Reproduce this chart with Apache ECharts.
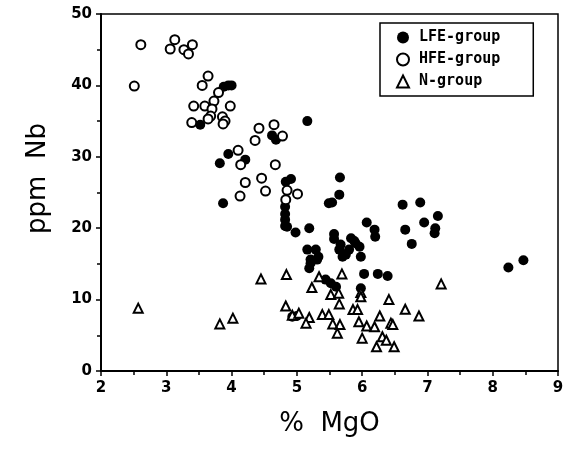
<!DOCTYPE html>
<html>
<head>
<meta charset="utf-8">
<script src="https://cdn.jsdelivr.net/npm/echarts@6/dist/echarts.min.js"></script>
<style>
  html, body { margin: 0; padding: 0; background: #fff; }
  #chart { width: 576px; height: 450px; }
</style>
</head>
<body>
<div id="chart"></div>
<script>
// % MgO vs ppm Nb, three lava groups
const lfeGroup = [
  [3.88, 39.8], [3.95, 40.0], [4.00, 40.0], [3.52, 34.5],
  [3.95, 30.4], [3.82, 29.1], [4.21, 29.6], [3.87, 23.5],
  [4.62, 33.0], [4.68, 32.4], [5.16, 35.0],
  [4.91, 26.9], [4.83, 26.5], [4.82, 23.0], [4.82, 22.0], [4.82, 21.2], [4.82, 20.3],
  [4.85, 20.2], [4.98, 19.4], [5.19, 20.0],
  [5.49, 23.5], [5.54, 23.6], [5.65, 24.7], [5.66, 27.1],
  [6.62, 23.3], [6.89, 23.6], [7.16, 21.7], [6.95, 20.8], [7.12, 20.0], [7.11, 19.3],
  [6.66, 19.8], [6.76, 17.8],
  [6.07, 20.8], [6.19, 19.8], [6.20, 18.8],
  [5.57, 19.2], [5.57, 18.5], [5.67, 17.7], [5.70, 16.0], [5.83, 18.6], [5.90, 17.9],
  [5.96, 17.4], [5.98, 16.0], [5.80, 17.0], [5.65, 17.0], [5.75, 16.3], [5.88, 18.2],
  [5.16, 17.0], [5.29, 17.0], [5.33, 16.0], [5.31, 15.6], [5.21, 15.6], [5.19, 14.4], [5.21, 15.1],
  [8.24, 14.5], [8.47, 15.5],
  [6.03, 13.6], [6.24, 13.6], [6.39, 13.3],
  [5.44, 12.8], [5.52, 12.3], [5.60, 11.8], [5.98, 11.6],
  [4.93, 7.6], [5.00, 7.7]
];

const hfeGroup = [
  [2.61, 45.7], [2.51, 39.9], [3.13, 46.4], [3.06, 45.1], [3.27, 45.0], [3.40, 45.7], [3.34, 44.4],
  [3.64, 41.3], [3.55, 40.0], [3.80, 39.0], [3.73, 37.8], [3.42, 37.1], [3.59, 37.1], [3.70, 36.7],
  [3.98, 37.1], [3.68, 35.7], [3.39, 34.8], [3.64, 35.3], [3.86, 35.6], [3.90, 35.0], [3.87, 34.6],
  [4.42, 34.0], [4.65, 34.5], [4.36, 32.3], [4.78, 32.9], [4.10, 30.9], [4.14, 28.9], [4.67, 28.9],
  [4.21, 26.4], [4.46, 27.0], [4.52, 25.2], [4.13, 24.5], [4.85, 25.3], [5.01, 24.8], [4.83, 24.0]
];

const nGroup = [
  [2.57, 8.8], [3.82, 6.6], [4.02, 7.4], [4.45, 12.9], [4.84, 13.5], [5.34, 13.2], [5.69, 13.6],
  [5.23, 11.7], [7.21, 12.2], [5.52, 10.7], [5.64, 10.9], [5.98, 11.0], [5.98, 10.4], [5.65, 9.4],
  [6.41, 10.0], [4.83, 9.1], [6.66, 8.65], [6.87, 7.7], [4.93, 7.8], [5.03, 8.1], [5.19, 7.5],
  [5.14, 6.7], [5.39, 7.9], [5.49, 7.9], [5.55, 6.6], [5.66, 6.5], [5.62, 5.3], [5.86, 8.6],
  [5.93, 8.6], [5.95, 6.9], [6.07, 6.3], [6.19, 6.2], [6.27, 7.7], [6.44, 6.7], [6.47, 6.5],
  [6.00, 4.6], [6.31, 4.8], [6.37, 4.3], [6.22, 3.4], [6.49, 3.4]
];

const seriesNames = ['LFE-group', 'HFE-group', 'N-group'];
const xTitle = '%  MgO';
const yTitle = 'ppm  Nb';

const chart = echarts.init(document.getElementById('chart'), null, { renderer: 'canvas' });

const axisFont = { fontFamily: 'DejaVu Sans', fontSize: 15, color: '#000', fontWeight: 'bold' };

chart.setOption({
  animation: false,
  backgroundColor: '#fff',
  grid: {
    left: 101, right: 18, top: 14, bottom: 79,
    show: true, borderColor: '#000', borderWidth: 1.5
  },
  legend: {
    orient: 'vertical',
    left: 380, top: 23,
    padding: [7, 33, 7, 16],
    itemGap: 7,
    itemWidth: 12, itemHeight: 12,
    borderColor: '#000', borderWidth: 1.5,
    data: seriesNames,
    textStyle: {
      fontFamily: 'DejaVu Sans Mono', fontWeight: 'bold', fontSize: 15, color: '#000',
      padding: [0, 0, 0, 5]
    }
  },
  xAxis: {
    type: 'value', min: 2, max: 9, interval: 1,
    name: xTitle, nameLocation: 'middle', nameGap: 40,
    nameTextStyle: { fontFamily: 'DejaVu Sans', fontSize: 26, color: '#000' },
    axisLine: { lineStyle: { color: '#000', width: 2 } },
    axisTick: { length: 5, lineStyle: { color: '#000', width: 1.5 } },
    minorTick: { show: true, splitNumber: 2, length: 4, lineStyle: { color: '#000', width: 1.5 } },
    splitLine: { show: false },
    axisLabel: Object.assign({ margin: 10 }, axisFont)
  },
  yAxis: {
    type: 'value', min: 0, max: 50, interval: 10,
    name: yTitle, nameLocation: 'middle', nameGap: 50,
    nameTextStyle: { fontFamily: 'DejaVu Sans', fontSize: 26, color: '#000', padding: [0, 0, 0, 28] },
    axisLine: { lineStyle: { color: '#000', width: 2 } },
    axisTick: { length: 5, lineStyle: { color: '#000', width: 1.5 } },
    minorTick: { show: true, splitNumber: 2, length: 4, lineStyle: { color: '#000', width: 1.5 } },
    splitLine: { show: false },
    axisLabel: Object.assign({ margin: 9 }, axisFont)
  },
  series: [
    {
      name: seriesNames[0], type: 'scatter', data: lfeGroup,
      symbol: 'circle', symbolSize: 10,
      itemStyle: { color: '#000', opacity: 1 }
    },
    {
      name: seriesNames[1], type: 'scatter', data: hfeGroup,
      symbol: 'circle', symbolSize: 9,
      itemStyle: { color: '#fff', borderColor: '#000', borderWidth: 2, opacity: 1 }
    },
    {
      name: seriesNames[2], type: 'scatter', data: nGroup,
      symbol: 'triangle', symbolSize: 9,
      itemStyle: { color: '#fff', borderColor: '#000', borderWidth: 2, opacity: 1 }
    }
  ]
});
</script>
</body>
</html>
